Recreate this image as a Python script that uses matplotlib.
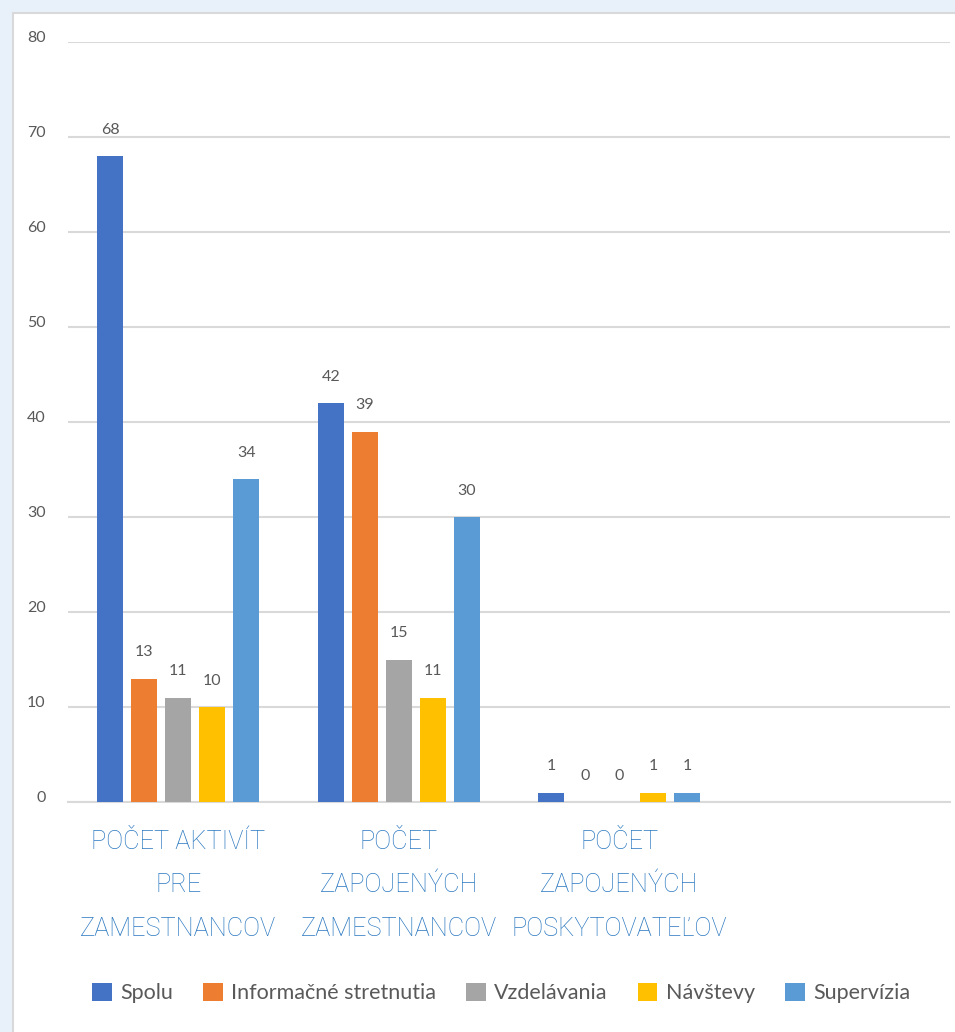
import numpy as np
import matplotlib
matplotlib.use('Agg')
from matplotlib import pyplot as plt
from matplotlib.patches import Rectangle

plt.rcParams['font.family'] = ['Lato', 'DejaVu Sans']

categories = ['POČET AKTIVÍT\nPRE\nZAMESTNANCOV',
              'POČET\nZAPOJENÝCH\nZAMESTNANCOV',
              'POČET\nZAPOJENÝCH\nPOSKYTOVATEĽOV',
              '']
series = ['Spolu', 'Informačné stretnutia', 'Vzdelávania', 'Návštevy', 'Supervízia']
spolu = [68, 42, 1, None]
informacne = [13, 39, 0, None]
vzdelavania = [11, 15, 0, None]
navstevy = [10, 11, 1, None]
supervizia = [34, 30, 1, None]
colors = ['#4472c4', '#ed7d31', '#a5a5a5', '#ffc000', '#5b9bd5']

values = [spolu, informacne, vzdelavania, navstevy, supervizia]

fig = plt.figure(figsize=(9.55, 10.32), dpi=100)
fig.patch.set_facecolor('#e8f1fa')
# white chart panel with thin grey border (open to the right and bottom)
fig.patches.append(Rectangle((13 / 955, -0.05), 1, 1.05 - 13 / 1032, transform=fig.transFigure,
                             facecolor='white', edgecolor='#d9d9d9', linewidth=1.5, zorder=-5))

ax = fig.add_axes([68 / 955, 230 / 1032, 882 / 955, 760 / 1032])
ax.set_facecolor('none')

x = np.arange(len(categories))
w = 0.118
step = 0.154
for i, (name, vals, c) in enumerate(zip(series, values, colors)):
    xs = []
    hs = []
    for j, v in enumerate(vals):
        if v is not None:
            xs.append(x[j] + (i - 2) * step)
            hs.append(v)
    bars = ax.bar(xs, hs, width=w, color=c, label=name, zorder=3)
    for b, v in zip(bars, hs):
        ax.annotate(str(v), (b.get_x() + b.get_width() / 2, v), xytext=(0, 14),
                    textcoords='offset points', ha='center', va='bottom',
                    fontsize=11.5, color='#595959')

ax.set_xlim(-0.5, 3.5)
ax.set_ylim(0, 80)
ax.set_yticks(range(0, 81, 10))
ax.grid(axis='y', color='#d9d9d9', linewidth=1.5, zorder=0)
for s in ['top', 'right', 'left']:
    ax.spines[s].set_visible(False)
ax.spines['bottom'].set_color('#d9d9d9')
ax.spines['bottom'].set_linewidth(1.5)
ax.tick_params(axis='y', length=0, pad=16, labelsize=11.5, labelcolor='#595959')
ax.tick_params(axis='x', length=0, pad=20)
ax.set_xticks(x)
ax.set_xticklabels(categories, fontsize=18.3, color='#2b78c0', linespacing=2.02,
                   family=['Roboto', 'DejaVu Sans'], fontweight='light')
for t in ax.get_yticklabels():
    t.set_verticalalignment('baseline')

fig.legend(loc='center', bbox_to_anchor=(0.525, 1 - 993 / 1032), ncol=5, frameon=False,
           fontsize=15.5, labelcolor='#595959', handlelength=0.9, handleheight=0.9,
           handletextpad=0.4, columnspacing=1.4)

plt.savefig('out.png', dpi=100, facecolor=fig.get_facecolor())
